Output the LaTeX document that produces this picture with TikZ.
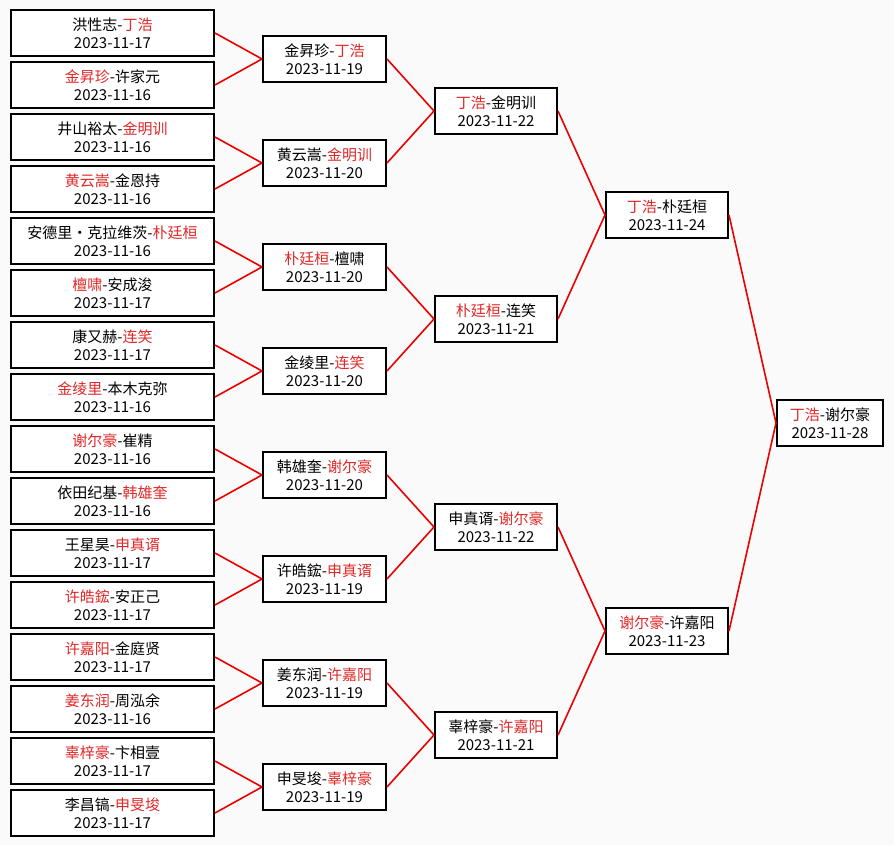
\documentclass[tikz,border=0pt]{standalone}
\usepackage{fontspec}
\newfontfamily\cjk{Noto Sans CJK SC}
\definecolor{win}{RGB}{225,40,40}
\definecolor{link}{RGB}{235,0,0}
\definecolor{bg}{RGB}{250,250,250}
\newcommand\rd[1]{\textcolor{win}{#1}}
\tikzset{
  match/.style={draw=black, line width=2pt, fill=white, rectangle, inner sep=0pt,
    minimum height=46pt, align=center, font=\cjk\fontsize{15}{18}\selectfont},
  r1/.style={match, minimum width=203pt},
  r2/.style={match, minimum width=123pt},
  r3/.style={match, minimum width=122pt},
  r5/.style={match, minimum width=106pt},
  link/.style={draw=link, line width=1.6pt}
}
\begin{document}
\begin{tikzpicture}[x=1pt,y=-1pt]
\fill[bg] (0,0) rectangle (894,845);
\useasboundingbox (0,0) rectangle (894,845);
\foreach \i/\t/\d in {
 0/{洪性志-\rd{丁浩}}/2023-11-17,
 1/{\rd{金昇珍}-许家元}/2023-11-16,
 2/{井山裕太-\rd{金明训}}/2023-11-16,
 3/{\rd{黄云嵩}-金恩持}/2023-11-16,
 4/{安德里·克拉维茨-\rd{朴廷桓}}/2023-11-16,
 5/{\rd{檀啸}-安成浚}/2023-11-17,
 6/{康又赫-\rd{连笑}}/2023-11-17,
 7/{\rd{金绫里}-本木克弥}/2023-11-16,
 8/{\rd{谢尔豪}-崔精}/2023-11-16,
 9/{依田纪基-\rd{韩雄奎}}/2023-11-16,
 10/{王星昊-\rd{申真谞}}/2023-11-17,
 11/{\rd{许皓鋐}-安正己}/2023-11-17,
 12/{\rd{许嘉阳}-金庭贤}/2023-11-17,
 13/{\rd{姜东润}-周泓余}/2023-11-16,
 14/{\rd{辜梓豪}-卞相壹}/2023-11-17,
 15/{李昌镐-\rd{申旻埈}}/2023-11-17}
 {\node[r1] (a\i) at (112.5,{33+52*\i}) {\t\\\d};}
\foreach \i/\t/\d in {
 0/{金昇珍-\rd{丁浩}}/2023-11-19,
 1/{黄云嵩-\rd{金明训}}/2023-11-20,
 2/{\rd{朴廷桓}-檀啸}/2023-11-20,
 3/{金绫里-\rd{连笑}}/2023-11-20,
 4/{韩雄奎-\rd{谢尔豪}}/2023-11-20,
 5/{许皓鋐-\rd{申真谞}}/2023-11-19,
 6/{姜东润-\rd{许嘉阳}}/2023-11-19,
 7/{申旻埈-\rd{辜梓豪}}/2023-11-19}
 {\node[r2] (b\i) at (324.5,{59+104*\i}) {\t\\\d};}
\foreach \i/\t/\d in {
 0/{\rd{丁浩}-金明训}/2023-11-22,
 1/{\rd{朴廷桓}-连笑}/2023-11-21,
 2/{申真谞-\rd{谢尔豪}}/2023-11-22,
 3/{辜梓豪-\rd{许嘉阳}}/2023-11-21}
 {\node[r3] (c\i) at (496,{111+208*\i}) {\t\\\d};}
\node[r3] (d0) at (667,215) {\rd{丁浩}-朴廷桓\\2023-11-24};
\node[r3] (d1) at (667,631) {\rd{谢尔豪}-许嘉阳\\2023-11-23};
\node[r5] (e0) at (830,423) {\rd{丁浩}-谢尔豪\\2023-11-28};
\foreach \i in {0,...,15}{
  \pgfmathtruncatemacro\p{int(\i/2)}
  \draw[link] (a\i.east) -- (b\p.west);}
\foreach \i in {0,...,7}{
  \pgfmathtruncatemacro\p{int(\i/2)}
  \draw[link] (b\i.east) -- (c\p.west);}
\foreach \i in {0,...,3}{
  \pgfmathtruncatemacro\p{int(\i/2)}
  \draw[link] (c\i.east) -- (d\p.west);}
\draw[link] (d0.east) -- (e0.west);
\draw[link] (d1.east) -- (e0.west);
\end{tikzpicture}
\end{document}
